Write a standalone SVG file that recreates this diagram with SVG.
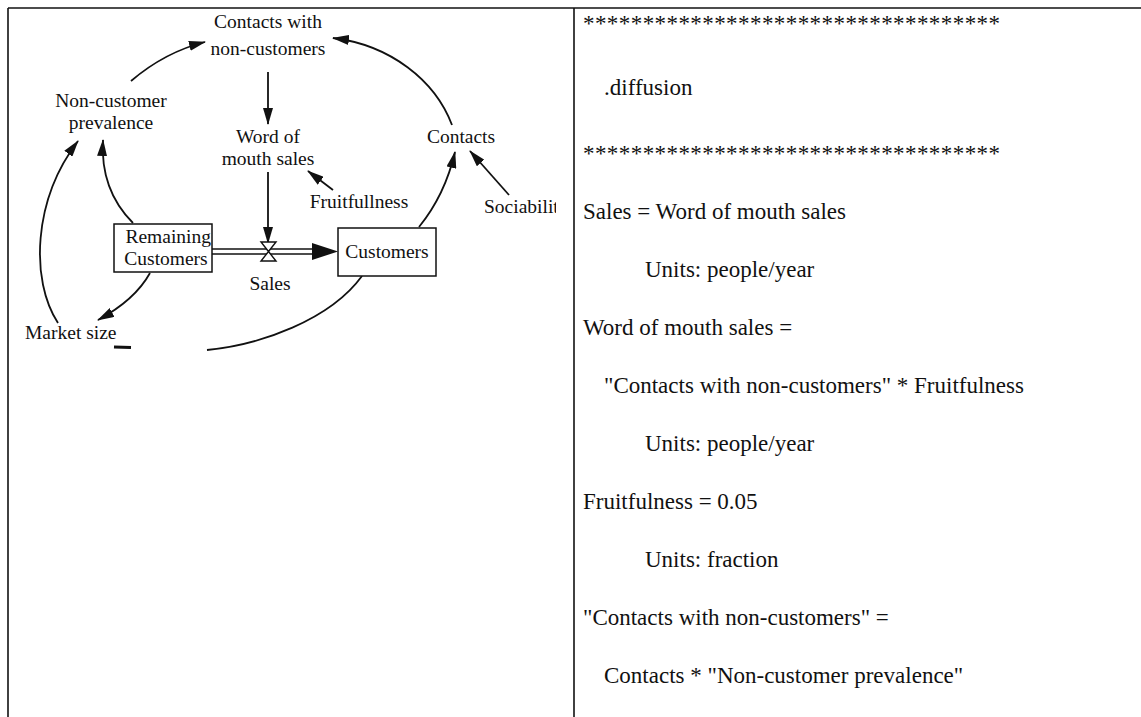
<svg xmlns="http://www.w3.org/2000/svg" width="1141" height="717" viewBox="0 0 1141 717">
  <style>
    .lbl { font-family: "Liberation Serif", "Times New Roman", serif; font-size: 19.5px; fill: #111; }
    .eq { font-family: "Liberation Serif", "Times New Roman", serif; font-size: 23px; fill: #111; }
    .frame { stroke: #111; stroke-width: 1.6; fill: none; }
    .link { stroke: #111; stroke-width: 1.8; fill: none; }
    .arr { marker-end: url(#head); }
    .box { fill: #fff; stroke: #111; stroke-width: 1.5; }
  </style>
  <defs>
    <marker id="head" viewBox="0 0 17 10" refX="16" refY="5" markerWidth="17" markerHeight="10" markerUnits="userSpaceOnUse" orient="auto">
      <path d="M0,0 L17,5 L0,10 z" fill="#111"/>
    </marker>
    <clipPath id="leftPane">
      <rect x="0" y="0" width="556" height="717"/>
    </clipPath>
  </defs>
  <rect width="1141" height="717" fill="#fff"/>

  <!-- page frame: top rule, left rule and column divider -->
  <g id="frame">
    <line class="frame" x1="8" y1="8" x2="1141" y2="8"/>
    <line class="frame" x1="8" y1="8" x2="8" y2="717"/>
    <line class="frame" x1="574" y1="8" x2="574" y2="717"/>
  </g>

  <!-- causal links and material flow -->
  <g id="connectors">
    <path class="link arr" d="M131,81 Q165,52 205,42"/>
    <path class="link arr" d="M268,72 L268,124"/>
    <path class="link arr" d="M452,125 C435,80 390,45 333,38"/>
    <path class="link arr" d="M333,190 L308,171"/>
    <path class="link arr" d="M509,195 L470,151"/>
    <path class="link arr" d="M419,227 Q445,195 455,152"/>
    <path class="link arr" d="M133,223 Q100,190 103,140"/>
    <path class="link arr" d="M58,323 C30,280 33,200 78,141"/>
    <path class="link arr" d="M150,273 Q135,300 98,320"/>
    <path class="link" d="M362,276 C330,320 260,345 207,350"/>
    <path class="link arr" d="M268,172 L268,243"/>
    <!-- pipe from Remaining Customers into Customers -->
    <line x1="212" y1="249" x2="318" y2="249" stroke="#111" stroke-width="1.4"/>
    <line x1="212" y1="254" x2="318" y2="254" stroke="#111" stroke-width="1.4"/>
    <path d="M312,243 L338,251.5 L312,260 z" fill="#111"/>
  </g>

  <g id="contacts-with-non-customers">
    <text class="lbl" x="268" y="28" text-anchor="middle">Contacts with</text>
    <text class="lbl" x="268" y="55" text-anchor="middle">non-customers</text>
  </g>
  <g id="non-customer-prevalence">
    <text class="lbl" x="111" y="107" text-anchor="middle">Non-customer</text>
    <text class="lbl" x="111" y="129" text-anchor="middle">prevalence</text>
  </g>
  <g id="word-of-mouth-sales">
    <text class="lbl" x="268" y="143" text-anchor="middle">Word of</text>
    <text class="lbl" x="268" y="165" text-anchor="middle">mouth sales</text>
  </g>
  <g id="contacts">
    <text class="lbl" x="461" y="143" text-anchor="middle">Contacts</text>
  </g>
  <g id="fruitfullness">
    <text class="lbl" x="359" y="208" text-anchor="middle">Fruitfullness</text>
  </g>
  <g id="sociability" clip-path="url(#leftPane)">
    <text class="lbl" x="484" y="213">Sociability</text>
  </g>
  <g id="remaining-customers">
    <rect class="box" x="114" y="224" width="98" height="48"/>
    <text class="lbl" x="211" y="243" text-anchor="end">Remaining</text>
    <text class="lbl" x="166" y="265" text-anchor="middle">Customers</text>
  </g>
  <g id="sales-valve">
    <path d="M261,242 L276,242 L268.5,251.5 z M268.5,251.5 L261,261 L276,261 z" fill="#fff" stroke="#111" stroke-width="1.4"/>
    <text class="lbl" x="270" y="290" text-anchor="middle">Sales</text>
  </g>
  <g id="customers">
    <rect class="box" x="338" y="228" width="98" height="48"/>
    <text class="lbl" x="387" y="258" text-anchor="middle">Customers</text>
  </g>
  <g id="market-size">
    <text class="lbl" x="25" y="339">Market size</text>
    <path d="M114,347 L131,347.5" stroke="#111" stroke-width="3"/>
  </g>

  <!-- equation listing -->
  <g id="equations">
    <text class="eq" x="583" y="31" textLength="417" lengthAdjust="spacing">***********************************</text>
    <text class="eq" x="604" y="95">.diffusion</text>
    <text class="eq" x="583" y="161" textLength="417" lengthAdjust="spacing">***********************************</text>
    <text class="eq" x="583" y="219">Sales = Word of mouth sales</text>
    <text class="eq" x="645" y="277">Units: people/year</text>
    <text class="eq" x="583" y="335">Word of mouth sales =</text>
    <text class="eq" x="604" y="393">"Contacts with non-customers" * Fruitfulness</text>
    <text class="eq" x="645" y="451">Units: people/year</text>
    <text class="eq" x="583" y="509">Fruitfulness = 0.05</text>
    <text class="eq" x="645" y="567">Units: fraction</text>
    <text class="eq" x="583" y="625">"Contacts with non-customers" =</text>
    <text class="eq" x="604" y="683">Contacts * "Non-customer prevalence"</text>
  </g>
</svg>
